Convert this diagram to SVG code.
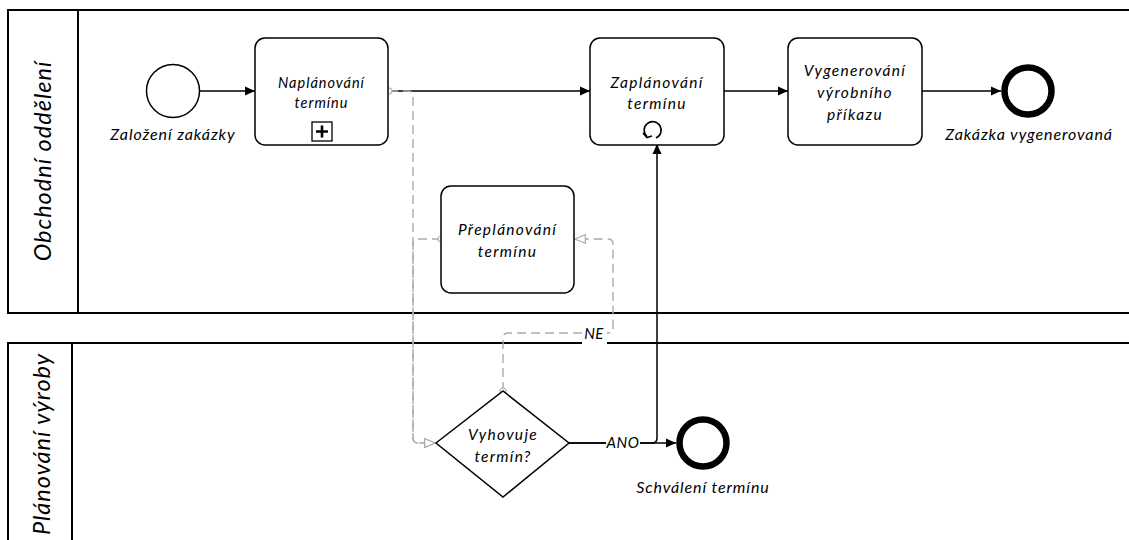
<svg xmlns="http://www.w3.org/2000/svg" width="1129" height="540" viewBox="0 0 1129 540">
  <style>
    text { font-family: Lato, "Open Sans", "Liberation Sans", sans-serif; font-style: italic; font-weight: 400; fill: #000; text-anchor: middle; }
    .lane { fill: #fff; stroke: #000; stroke-width: 2; }
    .lanelabel { font-size: 23.5px; letter-spacing: 1px; }
    .task { fill: #fff; stroke: #000; stroke-width: 1.5; }
    .tasktext { font-size: 15.5px; letter-spacing: 1.3px; }
    .subtext { font-size: 14.5px; letter-spacing: 1px; }
    .evlabel { font-size: 16px; letter-spacing: 0.9px; }
    .start { fill: #fff; stroke: #000; stroke-width: 1.5; }
    .end { fill: #fff; stroke: #000; stroke-width: 6.5; }
    .seq { fill: none; stroke: #000; stroke-width: 1.5; marker-end: url(#arrow); }
    .msg { fill: none; stroke: #aaa; stroke-width: 1.4; stroke-dasharray: 9 5; marker-start: url(#msgStart); marker-end: url(#msgEnd); }
    .flowlabel { font-size: 15px; letter-spacing: 0.5px; }
  </style>
  <defs>
    <marker id="arrow" viewBox="0 0 10 10" refX="10" refY="5" markerWidth="10" markerHeight="10" markerUnits="userSpaceOnUse" orient="auto">
      <path d="M0,0.5 L10,5 L0,9.5 Z" fill="#000"/>
    </marker>
    <marker id="msgEnd" viewBox="0 0 12 10" refX="12" refY="5" markerWidth="12" markerHeight="10" markerUnits="userSpaceOnUse" orient="auto">
      <path d="M0.7,0.7 L11.3,5 L0.7,9.3 Z" fill="#fff" stroke="#aaa" stroke-width="1.2"/>
    </marker>
    <marker id="msgStart" viewBox="0 0 8 8" refX="4" refY="4" markerWidth="8" markerHeight="8" markerUnits="userSpaceOnUse" orient="auto">
      <circle cx="4" cy="4" r="3" fill="#fff" stroke="#aaa" stroke-width="1.2"/>
    </marker>
  </defs>

  <!-- pools -->
  <g id="pool-obchodni">
    <rect class="lane" x="8" y="10" width="1140" height="303"/>
    <line x1="78" y1="10" x2="78" y2="313" stroke="#000" stroke-width="2"/>
    <text class="lanelabel" transform="translate(51,161) rotate(-90)">Obchodní oddělení</text>
  </g>
  <g id="pool-planovani">
    <rect class="lane" x="8" y="343" width="1140" height="220"/>
    <line x1="72" y1="343" x2="72" y2="563" stroke="#000" stroke-width="2"/>
    <text class="lanelabel" transform="translate(50,444) rotate(-90)">Plánování výroby</text>
  </g>

  <!-- connectors -->
  <g id="connectors">
    <path class="seq" d="M199.5,91 H255"/>
    <path class="seq" d="M388,91 H590"/>
    <path class="seq" d="M724,91 H788"/>
    <path class="seq" d="M922,91 H1001"/>
    <path class="seq" d="M569,443 H676"/>
    <path class="seq" d="M569,443 H652 Q657,443 657,438 V144"/>
    <path class="msg" d="M389,91 H408 Q413,91 413,96 V438 Q413,443 418,443 H436"/>
    <path class="msg" d="M441,239 H418 Q413,239 413,244 V438 Q413,443 418,443 H436"/>
    <path class="msg" d="M503,391 V338 Q503,333 508,333 H608 Q613,333 613,328 V244 Q613,239 608,239 H574"/>
    <rect x="582" y="325" width="25" height="19" fill="#fff"/>
    <text class="flowlabel" x="594" y="339">NE</text>
    <rect x="606" y="435" width="34" height="16" fill="#fff"/>
    <text class="flowlabel" x="623" y="448">ANO</text>
  </g>

  <!-- start event -->
  <g id="start-zalozeni">
    <circle class="start" cx="173" cy="91" r="26.5"/>
    <text class="evlabel" x="173" y="140">Založení zakázky</text>
  </g>

  <!-- collapsed subprocess -->
  <g id="task-naplanovani">
    <rect class="task" x="255" y="38" width="133" height="107" rx="10"/>
    <text class="subtext" x="321.5" y="88">Naplánování</text>
    <text class="subtext" x="321.5" y="108">termínu</text>
    <rect x="312" y="122" width="20" height="19" fill="#fff" stroke="#000" stroke-width="1.3"/>
    <path d="M322,125.5 V137.5 M316,131.5 H328" stroke="#000" stroke-width="2.6"/>
  </g>

  <!-- loop task -->
  <g id="task-zaplanovani">
    <rect class="task" x="590" y="38" width="134" height="107" rx="10"/>
    <text class="tasktext" x="657" y="88">Zaplánování</text>
    <text class="tasktext" x="657" y="109">termínu</text>
    <path d="M647,136.5 A8.5,8.5 0 1 1 656,138" fill="none" stroke="#000" stroke-width="1.6"/>
    <path d="M643,133 L647,137.5 L652,136" fill="none" stroke="#000" stroke-width="1.6"/>
  </g>

  <g id="task-vygenerovani">
    <rect class="task" x="788" y="38" width="134" height="107" rx="10"/>
    <text class="tasktext" x="855" y="76">Vygenerování</text>
    <text class="tasktext" x="855" y="98">výrobního</text>
    <text class="tasktext" x="855" y="120">příkazu</text>
  </g>

  <g id="end-zakazka">
    <circle class="end" cx="1028" cy="91" r="23.5"/>
    <text class="evlabel" x="1029" y="140">Zakázka vygenerovaná</text>
  </g>

  <g id="task-preplanovani">
    <rect class="task" x="441" y="186" width="133" height="107" rx="10"/>
    <text class="tasktext" x="507.5" y="235">Přeplánování</text>
    <text class="tasktext" x="507.5" y="257">termínu</text>
  </g>

  <g id="gateway-vyhovuje">
    <polygon points="436,443 503,391 569,443 503,497" fill="#fff" stroke="#000" stroke-width="1.5"/>
    <text class="tasktext" x="503" y="440">Vyhovuje</text>
    <text class="tasktext" x="503" y="462">termín?</text>
  </g>

  <g id="end-schvaleni">
    <circle class="end" cx="703" cy="443" r="23.5"/>
    <text class="evlabel" x="703" y="493">Schválení termínu</text>
  </g>
</svg>
